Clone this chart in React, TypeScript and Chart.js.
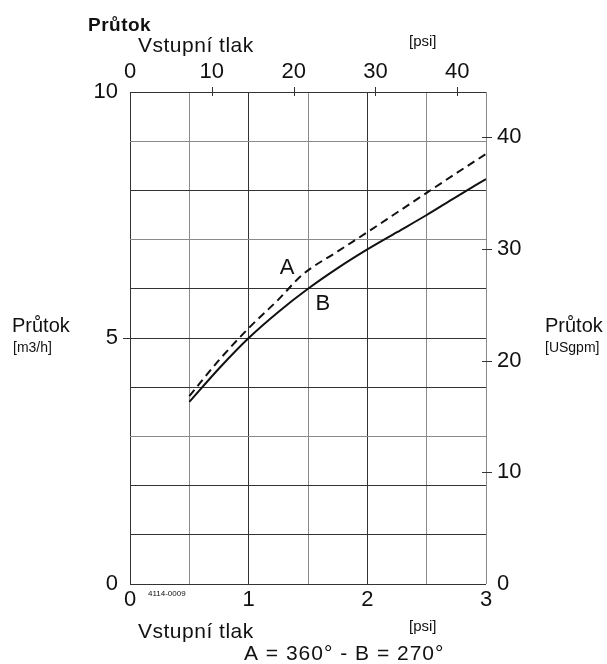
import React, { useEffect, useRef } from 'react';
import { Chart, registerables } from 'chart.js';

Chart.register(...registerables);

// Conversion factors for the secondary axes
const PSI_PER_BAR = 14.5038;
const USGPM_PER_M3H = 4.40287;

// Curve A (dashed, 360°) – inlet pressure [bar] vs. flow [m3/h]
const pressureA = [0.5, 0.75, 1.0, 1.25, 1.45, 1.75, 2.0, 2.25, 2.5, 2.75, 3.0];
const flowA = [3.82, 4.55, 5.2, 5.78, 6.28, 6.76, 7.15, 7.55, 7.95, 8.35, 8.74];

// Curve B (solid, 270°)
const pressureB = [0.5, 0.75, 1.0, 1.25, 1.5, 1.75, 2.0, 2.25, 2.5, 2.75, 3.0];
const flowB = [3.7, 4.38, 5.0, 5.53, 6.0, 6.42, 6.8, 7.15, 7.5, 7.87, 8.23];

// Tick labels
const barTicks = [0, 1, 2, 3];
const psiTicks = [0, 10, 20, 30, 40];
const m3hTicks = [0, 5, 10];
const usgpmTicks = [0, 10, 20, 30, 40];

// Curve annotations (data coordinates)
const curveLabels = [
  { text: 'A', x: 1.323, y: 6.42 },
  { text: 'B', x: 1.626, y: 5.69 },
];

const FONT = '"Liberation Sans", Arial, sans-serif';

const greyX = [0.5, 1.5, 2.5, 3];
const greyY = [3, 7, 9];

const overlay = {
  id: 'overlay',
  afterDraw(chart: any) {
    const ctx = chart.ctx as CanvasRenderingContext2D;
    const { x, y, x2, y2 } = chart.scales;
    const area = chart.chartArea;
    ctx.save();
    ctx.strokeStyle = '#333';
    ctx.lineWidth = 1;
    const line = (a: number, b: number, c: number, d: number) => {
      ctx.beginPath();
      ctx.moveTo(a, b);
      ctx.lineTo(c, d);
      ctx.stroke();
    };
    psiTicks.forEach((v) => {
      if (v === 0) return;
      const px = Math.round(x2.getPixelForValue(v)) + 0.5;
      line(px, area.top - 5, px, area.top + 4);
    });
    usgpmTicks.forEach((v) => {
      if (v === 0) return;
      const py = Math.round(y2.getPixelForValue(v)) + 0.5;
      line(area.right - 4, py, area.right + 6, py);
    });
    const p5 = Math.round(y.getPixelForValue(5)) + 0.5;
    line(area.left - 7, p5, area.left, p5);

    ctx.fillStyle = '#111';
    ctx.textAlign = 'center';
    ctx.textBaseline = 'middle';
    ctx.font = `22px ${FONT}`;
    curveLabels.forEach((l) => {
      ctx.fillText(l.text, x.getPixelForValue(l.x), y.getPixelForValue(l.y));
    });

    ctx.textAlign = 'left';
    ctx.textBaseline = 'alphabetic';
    const txt = (t: string, px: number, py: number, font: string, spacing = 0) => {
      ctx.font = font;
      (ctx as any).letterSpacing = spacing + 'px';
      ctx.fillText(t, px, py);
      (ctx as any).letterSpacing = '0px';
    };
    txt('Průtok', 88, 31, `bold 19px ${FONT}`, 0.5);
    txt('Vstupní tlak', 138, 52, `21px ${FONT}`, 0.5);
    txt('[psi]', 409, 46, `15px ${FONT}`);
    txt('Průtok', 12, 332, `20px ${FONT}`);
    txt('[m3/h]', 13, 352, `14px ${FONT}`);
    txt('Průtok', 545, 332, `20px ${FONT}`);
    txt('[USgpm]', 545, 352, `14px ${FONT}`);
    txt('4114-0009', 148, 596, `8px ${FONT}`);
    txt('Vstupní tlak', 138, 638, `21px ${FONT}`, 0.5);
    txt('[psi]', 409, 631, `15px ${FONT}`);
    txt('A = 360° - B = 270°', 244, 660, `21px ${FONT}`, 1);
    ctx.restore();
  },
};

export default function App() {
  const ref = useRef<HTMLCanvasElement>(null);
  useEffect(() => {
    const tickFont = { family: FONT, size: 22 };
    const chart = new Chart(ref.current!, {
      type: 'line',
      data: {
        datasets: [
          {
            label: 'A = 360°',
            data: pressureA.map((p, i) => ({ x: p, y: flowA[i] })),
            borderColor: '#111',
            borderWidth: 2,
            borderDash: [8, 5],
            pointRadius: 0,
            cubicInterpolationMode: 'monotone',
            xAxisID: 'x',
            yAxisID: 'y',
          },
          {
            label: 'B = 270°',
            data: pressureB.map((p, i) => ({ x: p, y: flowB[i] })),
            borderColor: '#111',
            borderWidth: 2,
            pointRadius: 0,
            cubicInterpolationMode: 'monotone',
            xAxisID: 'x',
            yAxisID: 'y',
          },
        ],
      },
      options: {
        responsive: false,
        animation: false,
        events: [],
        layout: { padding: 0 },
        plugins: { legend: { display: false }, tooltip: { enabled: false }, title: { display: false } },
        scales: {
          x: {
            type: 'linear',
            position: 'bottom',
            min: 0,
            max: 3,
            ticks: {
              stepSize: 0.5,
              autoSkip: false,
              maxRotation: 0,
              color: '#111',
              font: tickFont,
              padding: 3,
              callback: (v: any) => (barTicks.includes(Number(v)) ? String(v) : ''),
            },
            grid: {
              drawTicks: false,
              lineWidth: 1,
              color: (c: any) => (greyX.includes(c.tick?.value) ? '#8a8a8a' : '#333'),
            },
            border: { display: false },
            afterFit: (s: any) => {
              s.height = 80;
            },
          },
          x2: {
            type: 'linear',
            position: 'top',
            min: 0,
            max: 3 * PSI_PER_BAR,
            afterBuildTicks: (s: any) => {
              s.ticks = psiTicks.map((v) => ({ value: v }));
            },
            ticks: { color: '#111', font: tickFont, padding: 7, maxRotation: 0, autoSkip: false },
            grid: { display: false, drawTicks: false },
            border: { display: false },
            afterFit: (s: any) => {
              s.height = 92;
            },
          },
          y: {
            type: 'linear',
            position: 'left',
            min: 0,
            max: 10,
            ticks: {
              stepSize: 1,
              autoSkip: false,
              color: '#111',
              font: tickFont,
              padding: 12,
              callback: (v: any) => (m3hTicks.includes(Number(v)) ? String(v) : ''),
            },
            grid: {
              drawTicks: false,
              lineWidth: 1,
              color: (c: any) => (greyY.includes(c.tick?.value) ? '#8a8a8a' : '#333'),
            },
            border: { display: false },
            afterFit: (s: any) => {
              s.width = 130;
            },
          },
          y2: {
            type: 'linear',
            position: 'right',
            min: 0,
            max: 10 * USGPM_PER_M3H,
            afterBuildTicks: (s: any) => {
              s.ticks = usgpmTicks.map((v) => ({ value: v }));
            },
            ticks: { color: '#111', font: tickFont, padding: 11, autoSkip: false },
            grid: { display: false, drawTicks: false },
            border: { display: false },
            afterFit: (s: any) => {
              s.width = 121;
            },
          },
        },
      },
      plugins: [overlay],
    } as any);
    return () => chart.destroy();
  }, []);
  return (
    <div style={{ position: 'absolute', left: 0, top: 0, width: 607, height: 664, background: '#fff' }}>
      <canvas ref={ref} width={607} height={664} style={{ display: 'block' }} />
    </div>
  );
}
